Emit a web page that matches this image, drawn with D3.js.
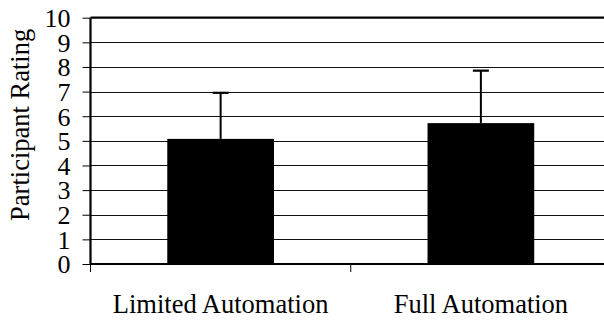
<!DOCTYPE html>
<html>
<head>
<meta charset="utf-8">
<script src="https://cdn.jsdelivr.net/npm/d3@7"></script>
<style>
  html, body { margin: 0; padding: 0; background: #fff; }
  svg { display: block; }
  svg text { font-family: "Liberation Serif", "Times New Roman", serif; fill: #000; }
</style>
</head>
<body>
<svg id="chart" width="604" height="320"></svg>
<script>
const categories = ["Limited Automation", "Full Automation"];
const means = [5.08, 5.72];
const errors = [1.87, 2.13];
const yTicks = [0, 1, 2, 3, 4, 5, 6, 7, 8, 9, 10];
const yTitle = "Participant Rating";

const FONT = '"Liberation Serif", "Times New Roman", serif';
const svg = d3.select("#chart");
const plot = { left: 90.5, right: 611, top: 17.7, bottom: 264 };

const x = d3.scaleBand().domain(categories).range([plot.left, plot.right]).padding(0);
const y = d3.scaleLinear().domain([0, 10]).range([plot.bottom, plot.top]);
const barW = x.bandwidth() * 0.41;

// gridlines
svg.append("g").selectAll("line").data(yTicks.filter(t => t > 0 && t < 10)).join("line")
  .attr("x1", plot.left).attr("x2", plot.right)
  .attr("y1", d => Math.round(y(d)) + 0.5).attr("y2", d => Math.round(y(d)) + 0.5)
  .attr("stroke", "#111").attr("stroke-width", 1);

// top border
svg.append("line")
  .attr("x1", plot.left).attr("x2", plot.right)
  .attr("y1", y(10)).attr("y2", y(10))
  .attr("stroke", "#000").attr("stroke-width", 2.2);

// bars
svg.append("g").selectAll("rect").data(categories).join("rect")
  .attr("x", d => x(d) + x.bandwidth() / 2 - barW / 2)
  .attr("width", barW)
  .attr("y", (d, i) => y(means[i]))
  .attr("height", (d, i) => y(0) - y(means[i]))
  .attr("fill", "#000");

// error bars (upper)
const eb = svg.append("g");
categories.forEach((c, i) => {
  const cx = x(c) + x.bandwidth() / 2;
  eb.append("line").attr("x1", cx).attr("x2", cx)
    .attr("y1", y(means[i])).attr("y2", y(means[i] + errors[i]))
    .attr("stroke", "#000").attr("stroke-width", 2);
  eb.append("line").attr("x1", cx - 8).attr("x2", cx + 8)
    .attr("y1", y(means[i] + errors[i])).attr("y2", y(means[i] + errors[i]))
    .attr("stroke", "#000").attr("stroke-width", 2.2);
});

// y axis
const yAxis = d3.axisLeft(y).tickValues(yTicks).tickSize(8).tickPadding(12).tickFormat(d3.format("d"));
const gy = svg.append("g").attr("transform", `translate(${plot.left},0)`).call(yAxis)
  .attr("font-family", FONT).attr("font-size", 26);
gy.select(".domain").attr("stroke", "#000").attr("stroke-width", 2.2).attr("d", `M0,${plot.top}V${plot.bottom}`);
gy.selectAll(".tick line").attr("stroke", "#000").attr("stroke-width", 1);
gy.selectAll(".tick text").style("font-family", FONT).style("font-size", "26px").attr("fill", "#000").attr("dy", "0.34em");

// x axis
const xAxis = d3.axisBottom(x).tickSize(0).tickPadding(30);
const gx = svg.append("g").attr("transform", `translate(0,${plot.bottom})`).call(xAxis)
  .attr("font-family", FONT).attr("font-size", 26);
gx.select(".domain").attr("stroke", "#000").attr("stroke-width", 2.2).attr("d", `M${plot.left},0H${plot.right}`);
gx.selectAll(".tick text").style("font-family", FONT).style("font-size", "26.5px").attr("fill", "#000");

// category separator ticks
const seps = categories.map(c => x(c));
svg.append("g").selectAll("line").data(seps).join("line")
  .attr("x1", d => d).attr("x2", d => d)
  .attr("y1", plot.bottom).attr("y2", plot.bottom + 8)
  .attr("stroke", "#000").attr("stroke-width", 1);

// y title
svg.append("text")
  .attr("transform", `translate(29,${(plot.top + plot.bottom) / 2 - 16}) rotate(-90)`)
  .attr("text-anchor", "middle")
  .style("font-family", FONT)
  .style("font-size", "26.5px")
  .text(yTitle);
</script>
</body>
</html>
